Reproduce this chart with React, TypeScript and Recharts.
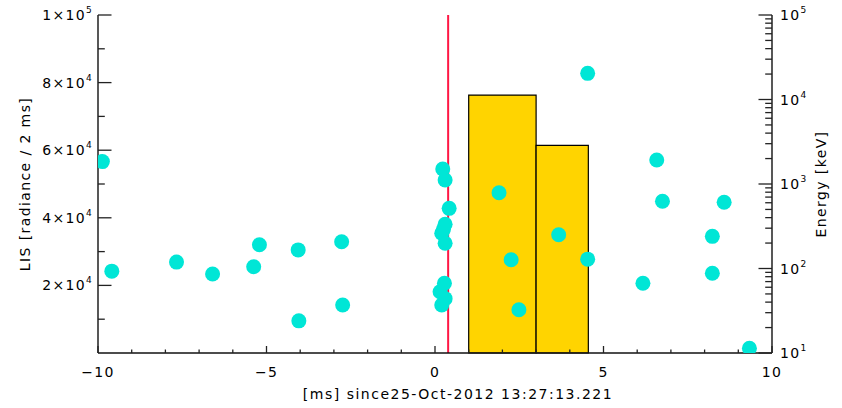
import { ComposedChart, Scatter, XAxis, YAxis, ReferenceArea, ReferenceLine, Label } from 'recharts';

// photon arrival time [ms] and energy [keV]
const photonTime = [
  -9.87, -9.59, -7.67, -6.6, -5.38, -5.21, -4.06, -4.04, -2.77, -2.74,
  0.23, 0.3, 0.42, 0.3, 0.25, 0.2, 0.3, 0.28, 0.15, 0.3, 0.2,
  1.9, 2.26, 2.49, 3.67, 4.53, 4.53, 6.58, 6.75, 8.58, 8.23, 8.23, 6.17, 9.33,
];
const photonEnergy = [
  1840, 93, 119, 86, 105, 191, 166, 24, 207, 37,
  1506, 1115, 515, 334, 290, 261, 199, 67, 53, 44, 37,
  789, 127, 32.5, 251, 20400, 129, 1920, 624, 607, 240, 88, 67, 11.4,
];

// LIS radiance histogram (2 ms bins)
const binStart = [1, 3];
const binEnd = [3, 4.55];
const binRadiance = [76300, 61400];

const flashTime = 0.39;

const xTicks = [-10, -9, -8, -7, -6, -5, -4, -3, -2, -1, 0, 1, 2, 3, 4, 5, 6, 7, 8, 9, 10];
const xLabels = [-10, -5, 0, 5, 10];
const leftTicks = [10000, 20000, 30000, 40000, 50000, 60000, 70000, 80000, 90000, 100000];
const leftLabels = [20000, 40000, 60000, 80000, 100000];
const rightTicks = [
  10, 20, 30, 40, 50, 60, 70, 80, 90,
  100, 200, 300, 400, 500, 600, 700, 800, 900,
  1000, 2000, 3000, 4000, 5000, 6000, 7000, 8000, 9000,
  10000, 20000, 30000, 40000, 50000, 60000, 70000, 80000, 90000,
  100000,
];
const rightLabels = [10, 100, 1000, 10000, 100000];

const photons = photonTime.map((x, i) => ({ x, y: photonEnergy[i] }));

const FONT = 'DejaVu Sans, sans-serif';
const LS = 1.3;
const AXIS = { stroke: '#111', strokeWidth: 1.4 };
const TICK = '#222';

const bottomTick = (p: any) => {
  const x = Number(p.x);
  const y = Number(p.y);
  const v = p.payload.value;
  const major = xLabels.includes(v);
  return (
    <g>
      <line x1={x} x2={x} y1={y} y2={y - (major ? 7 : 3.5)} stroke={TICK} strokeWidth={1.3} />
      {major && (
        <text x={x} y={y + 24} textAnchor="middle" fontSize={14} letterSpacing={LS} fontFamily={FONT} fill="#000">
          {v < 0 ? `\u2212${Math.abs(v)}` : String(v)}
        </text>
      )}
    </g>
  );
};

const topTick = (p: any) => {
  const x = Number(p.x);
  const y = Number(p.y);
  const major = xLabels.includes(p.payload.value);
  return <line x1={x} x2={x} y1={y} y2={y + (major ? 7 : 3.5)} stroke={TICK} strokeWidth={1.3} />;
};

const leftTick = (p: any) => {
  const x = Number(p.x);
  const y = Number(p.y);
  const v = p.payload.value;
  const major = leftLabels.includes(v);
  const exp = Math.floor(Math.log10(v));
  const mant = Math.round(v / Math.pow(10, exp));
  return (
    <g>
      <line x1={x} x2={x + (major ? 13.5 : 6.8)} y1={y} y2={y} stroke={TICK} strokeWidth={1.3} />
      {major && (
        <text x={x - 5} y={y + 5} textAnchor="end" fontSize={14} letterSpacing={LS} fontFamily={FONT} fill="#000">
          <tspan>{`${mant}\u00d710`}</tspan>
          <tspan dy={-7} fontSize={9}>{exp}</tspan>
        </text>
      )}
    </g>
  );
};

const rightTick = (p: any) => {
  const x = Number(p.x);
  const y = Number(p.y);
  const v = p.payload.value;
  const major = rightLabels.includes(v);
  return (
    <g>
      <line x1={x} x2={x - (major ? 13.5 : 6.8)} y1={y} y2={y} stroke={TICK} strokeWidth={1.3} />
      {major && (
        <text x={x + 8} y={y + 5} textAnchor="start" fontSize={14} letterSpacing={LS} fontFamily={FONT} fill="#000">
          <tspan>10</tspan>
          <tspan dy={-7} fontSize={9}>{String(Math.round(Math.log10(v)))}</tspan>
        </text>
      )}
    </g>
  );
};

const Dot = (props: any) => <circle cx={props.cx} cy={props.cy} r={7.5} fill="#00e6d6" />;

export default function App() {
  return (
    <div style={{ position: 'absolute', left: 0, top: 0, background: '#fff' }}>
      <ComposedChart width={842} height={408} margin={{ top: 15, right: 0, bottom: 0, left: 0 }}>
        <XAxis
          xAxisId={0}
          type="number"
          dataKey="x"
          domain={[-10, 10]}
          ticks={xTicks}
          interval={0}
          tickSize={0}
          tickMargin={0}
          tickLine={false}
          axisLine={AXIS}
          tick={bottomTick}
          height={55}
          allowDataOverflow
        >
          <Label
            content={({ viewBox }: any) => (
              <text x={458} y={viewBox.y + 46} textAnchor="middle" fontSize={14} letterSpacing={1.5} fontFamily={FONT} fill="#000">
                [ms] since25-Oct-2012 13:27:13.221
              </text>
            )}
          />
        </XAxis>
        <XAxis
          xAxisId="top"
          orientation="top"
          type="number"
          dataKey="x"
          domain={[-10, 10]}
          ticks={xTicks}
          interval={0}
          tickSize={0}
          tickMargin={0}
          tickLine={false}
          axisLine={AXIS}
          tick={topTick}
          height={0}
          allowDataOverflow
        />
        <YAxis
          yAxisId="left"
          type="number"
          domain={[0, 100000]}
          ticks={leftTicks}
          interval={0}
          tickSize={0}
          tickMargin={0}
          tickLine={false}
          axisLine={AXIS}
          tick={leftTick}
          width={98}
          allowDataOverflow
        >
          <Label
            content={({ viewBox }: any) => {
              const cx = 30;
              const cy = viewBox.y + viewBox.height / 2;
              return (
                <text x={cx} y={cy} transform={`rotate(-90 ${cx} ${cy})`} textAnchor="middle" fontSize={14} letterSpacing={1.4} fontFamily={FONT} fill="#000">
                  LIS [radiance / 2 ms]
                </text>
              );
            }}
          />
        </YAxis>
        <YAxis
          yAxisId="right"
          orientation="right"
          type="number"
          scale="log"
          domain={[10, 100000]}
          ticks={rightTicks}
          interval={0}
          tickSize={0}
          tickMargin={0}
          tickLine={false}
          axisLine={AXIS}
          tick={rightTick}
          width={70}
          allowDataOverflow
        >
          <Label
            content={({ viewBox }: any) => {
              const cx = 826;
              const cy = viewBox.y + viewBox.height / 2;
              return (
                <text x={cx} y={cy} transform={`rotate(-90 ${cx} ${cy})`} textAnchor="middle" fontSize={14} letterSpacing={1.4} fontFamily={FONT} fill="#000">
                  Energy [keV]
                </text>
              );
            }}
          />
        </YAxis>
        {binStart.map((s, i) => (
          <ReferenceArea
            key={i}
            xAxisId={0}
            yAxisId="left"
            x1={s}
            x2={binEnd[i]}
            y1={0}
            y2={binRadiance[i]}
            fill="#ffd400"
            fillOpacity={1}
            stroke="#000"
            strokeWidth={1.2}
          />
        ))}
        <ReferenceLine xAxisId={0} yAxisId="left" x={flashTime} stroke="#ff1744" strokeWidth={2} />
        <Scatter
          xAxisId={0}
          yAxisId="right"
          data={photons}
          dataKey="y"
          shape={<Dot />}
          isAnimationActive={false}
        />
      </ComposedChart>
    </div>
  );
}
